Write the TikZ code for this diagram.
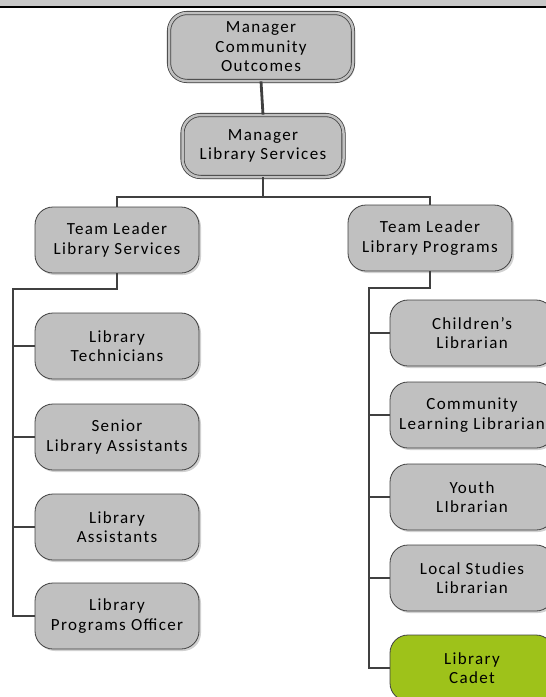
\documentclass[tikz,border=0pt]{standalone}
\usepackage{fontspec}
\setmainfont{Carlito}[LetterSpace=8]
\usetikzlibrary{shadows}
\definecolor{boxgray}{RGB}{192,192,192}
\definecolor{edgegray}{RGB}{64,64,64}
\definecolor{cadetgreen}{RGB}{158,194,26}
\definecolor{bandgray}{RGB}{200,200,200}
\begin{document}
\begin{tikzpicture}[x=1pt,y=-1pt,
  box/.style={draw=edgegray, line width=0.8pt, fill=boxgray, rounded corners=18pt,
    minimum width=164pt, minimum height=66pt, align=center, inner sep=0pt,
    font=\fontsize{17}{19.5}\selectfont,
    drop shadow={shadow xshift=2pt, shadow yshift=-2pt, fill=black!18, opacity=1}},
  mgr/.style={box, double=boxgray, double distance=2.5pt},
  link/.style={draw=edgegray, line width=2.8pt}]
\useasboundingbox (0,0) rectangle (546,697);
\clip (0,0) rectangle (546,697);
\fill[bandgray] (0,0) rectangle (546,6);
\draw[black, line width=2.5pt] (0,7.2) -- (546,7.2);

\node[mgr, minimum width=184pt, minimum height=68pt] (mco) at (261,47) {Manager\\Community\\Outcomes};
\node[mgr, minimum width=161pt, minimum height=62pt] (mls) at (263,146) {Manager\\Library Services};

\node[box] (tls) at (117,240) {Team Leader\\Library Services};
\node[box] (tlp) at (430,238) {Team Leader\\Library Programs};

\node[box] (tech) at (117,346) {Library\\Technicians};
\node[box] (sla) at (117,437) {Senior\\Library Assistants};
\node[box] (la) at (117,527) {Library\\Assistants};
\node[box] (lpo) at (117,616) {Library\\Programs Officer};

\node[box] (chl) at (472,333) {Children’s\\Librarian};
\node[box] (cll) at (472,415) {Community\\Learning Librarian};
\node[box] (yl) at (472,497) {Youth\\LIbrarian};
\node[box] (lsl) at (472,578) {Local Studies\\Librarian};
\node[box, fill=cadetgreen] (cad) at (472,668) {Library\\Cadet};

\coordinate (busC) at (263,197);
\coordinate (lt) at (13,289);
\coordinate (rt) at (369,288);

\draw[link] (mco.south) -- (mls.north);
\draw[link] (mls.south) -- (busC);
\draw[link] (tls.north) |- (busC) -| (tlp.north);

\draw[link] (tls.south) |- (lt) -- (lt |- lpo.west) -- (lpo.west);
\draw[link] (lt |- tech.west) -- (tech.west);
\draw[link] (lt |- sla.west) -- (sla.west);
\draw[link] (lt |- la.west) -- (la.west);

\draw[link] (tlp.south) |- (rt) -- (rt |- cad.west) -- (cad.west);
\draw[link] (rt |- chl.west) -- (chl.west);
\draw[link] (rt |- cll.west) -- (cll.west);
\draw[link] (rt |- yl.west) -- (yl.west);
\draw[link] (rt |- lsl.west) -- (lsl.west);
\end{tikzpicture}
\end{document}
